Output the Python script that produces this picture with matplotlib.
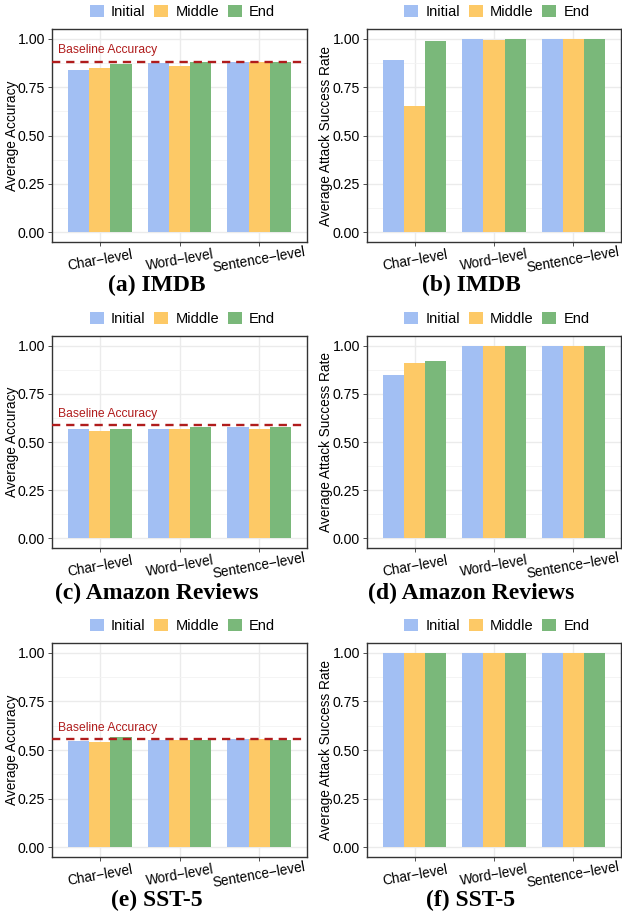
import matplotlib
matplotlib.use("Agg")
import matplotlib.pyplot as plt
from matplotlib.patches import Patch
import numpy as np

categories = ["Char\u2212level", "Word\u2212level", "Sentence\u2212level"]
series_names = ["Initial", "Middle", "End"]
colors = ["#a2bff3", "#fdc966", "#7ab87a"]

# accuracy panels
imdb_acc = {"Initial": [0.836, 0.876, 0.880], "Middle": [0.850, 0.861, 0.880], "End": [0.871, 0.879, 0.881]}
amazon_acc = {"Initial": [0.569, 0.569, 0.576], "Middle": [0.555, 0.565, 0.565], "End": [0.565, 0.576, 0.576]}
sst_acc = {"Initial": [0.544, 0.549, 0.554], "Middle": [0.539, 0.549, 0.554], "End": [0.565, 0.549, 0.552]}
baseline_imdb = 0.881
baseline_amazon = 0.586
baseline_sst = 0.554

# attack success panels
imdb_asr = {"Initial": [0.890, 1.000, 1.000], "Middle": [0.654, 0.995, 1.000], "End": [0.987, 1.000, 1.000]}
amazon_asr = {"Initial": [0.850, 1.000, 1.000], "Middle": [0.912, 0.997, 1.000], "End": [0.922, 1.000, 1.000]}
sst_asr = {"Initial": [1.000, 1.000, 1.000], "Middle": [1.000, 1.000, 1.000], "End": [1.000, 1.000, 1.000]}

captions = ["(a) IMDB", "(b) IMDB", "(c) Amazon Reviews", "(d) Amazon Reviews", "(e) SST-5", "(f) SST-5"]
yticks = [0.0, 0.25, 0.5, 0.75, 1.0]
ytick_labels = ["0.00", "0.25", "0.50", "0.75", "1.00"]

plt.rcParams["font.family"] = ["Liberation Sans", "DejaVu Sans"]

W, H = 622, 915
fig = plt.figure(figsize=(W / 100, H / 100), dpi=100)

def ax_rect(left, top, right, bottom):
    return [left / W, 1 - bottom / H, (right - left) / W, (bottom - top) / H]

rows = [(29, 242), (336, 548), (643, 857)]
cols = [(52, 307), (367, 621)]
ylabel_x = [12, 326]
legend_y = [12, 319, 626]
caption_y = [285, 593, 900]
caption_x = [157, 471]

panels = [
    (imdb_acc, baseline_imdb, "Average Accuracy"),
    (imdb_asr, None, "Average Attack Success Rate"),
    (amazon_acc, baseline_amazon, "Average Accuracy"),
    (amazon_asr, None, "Average Attack Success Rate"),
    (sst_acc, baseline_sst, "Average Accuracy"),
    (sst_asr, None, "Average Attack Success Rate"),
]

bw = 0.8 / 3
x = np.arange(1, len(categories) + 1)
for i, (data, base, ylabel) in enumerate(panels):
    r, c = divmod(i, 2)
    top, bottom = rows[r]
    left, right = cols[c]
    ax = fig.add_axes(ax_rect(left, top, right, bottom))
    ax.set_axisbelow(True)
    for k, name in enumerate(series_names):
        ax.bar(x + (k - 1) * bw, data[name], width=bw, color=colors[k], zorder=2)
    ax.set_xlim(0.4, 3.6)
    ax.set_ylim(-0.05, 1.05)
    ax.set_yticks(yticks)
    ax.set_yticklabels(ytick_labels)
    ax.set_yticks([0.125, 0.375, 0.625, 0.875], minor=True)
    ax.set_xticks(x)
    ax.set_xticklabels(categories, rotation=10, ha="center", va="center", rotation_mode="anchor")
    ax.grid(True, which="major", color="#ebebeb", linewidth=1.0, zorder=0)
    ax.grid(True, which="minor", axis="y", color="#f3f3f3", linewidth=0.6, zorder=0)
    ax.tick_params(axis="both", which="major", labelsize=10.2, color="#333333", length=3, width=0.6, labelcolor="black", pad=2)
    ax.tick_params(axis="x", which="major", labelsize=9.8, pad=10)
    ax.tick_params(axis="y", which="minor", length=0)
    for sp in ax.spines.values():
        sp.set_color("#333333")
        sp.set_linewidth(1.0)
    ax.set_ylabel(ylabel, fontsize=9.8, va="center")
    ax.yaxis.set_label_coords((ylabel_x[c] - left) / (right - left), 0.5)
    if base is not None:
        ax.axhline(base, color="#b01c1c", linestyle=(0, (3.5, 2.5)), linewidth=1.7, zorder=3)
        ax.text(0.025, base + 0.03, "Baseline Accuracy", transform=ax.get_yaxis_transform(),
                color="#b01c1c", fontsize=8.7, ha="left", va="bottom")
    # legend
    handles = [Patch(facecolor=colors[k], edgecolor="none", label=series_names[k]) for k in range(3)]
    cx = (left + right) / 2 / W + 3 / W
    fig.legend(handles=handles, loc="center", bbox_to_anchor=(cx, 1 - legend_y[r] / H), ncol=3,
               frameon=False, fontsize=10.5, handlelength=0.95, handleheight=0.95,
               handletextpad=0.5, columnspacing=0.6, borderpad=0)
    fig.text(caption_x[c] / W, 1 - caption_y[r] / H, captions[i], ha="center", va="center",
             fontsize=17, fontweight="bold", family=["Liberation Serif", "DejaVu Serif"])

fig.savefig("out.png", dpi=100)
